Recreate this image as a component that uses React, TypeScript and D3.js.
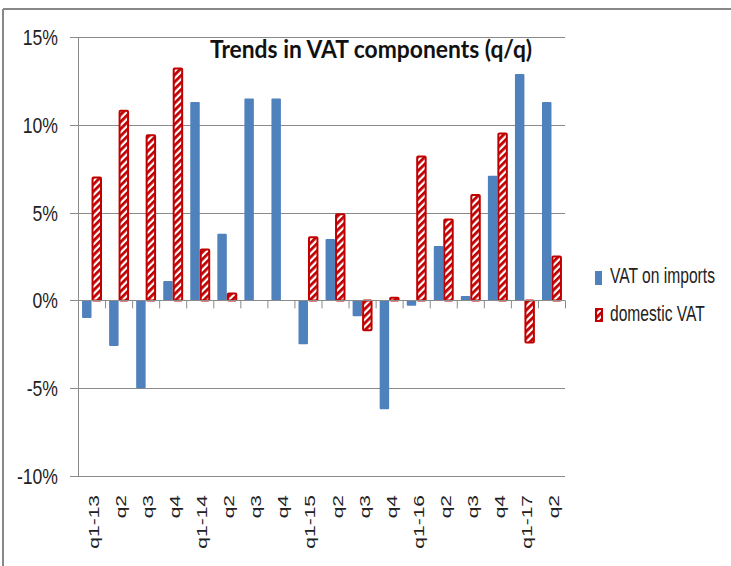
import React from 'react';
import * as d3 from 'd3';

const categories = ['q1-13', 'q2', 'q3', 'q4', 'q1-14', 'q2', 'q3', 'q4', 'q1-15', 'q2', 'q3', 'q4', 'q1-16', 'q2', 'q3', 'q4', 'q1-17', 'q2'];
const vatImports = [-1.0, -2.6, -5.0, 1.1, 11.3, 3.8, 11.5, 11.5, -2.5, 3.5, -0.9, -6.2, -0.3, 3.1, 0.25, 7.1, 12.9, 11.3];
const vatDomestic = [7.0, 10.8, 9.4, 13.2, 2.9, 0.4, 0, 0, 3.6, 4.9, -1.7, 0.15, 8.2, 4.6, 6.0, 9.5, -2.4, 2.5];
const yTicks = [-10, -5, 0, 5, 10, 15];
const seriesNames = ['VAT on imports', 'domestic VAT'];

const BLUE = '#4F81BD';
const RED = '#C00000';
const GRID = '#8a8a8a';

const App = () => {
  const width = 731;
  const height = 566;
  const left = 78, right = 565, top = 37, bottom = 476;

  const x = d3.scaleBand<number>()
    .domain(d3.range(categories.length))
    .range([left, right])
    .paddingInner(0.3)
    .paddingOuter(0.15);
  const sub = d3.scaleBand<number>().domain([0, 1]).range([0, x.bandwidth()]);
  const y = d3.scaleLinear().domain([-10, 15]).range([bottom, top]);
  const step = x.step();

  const bar = (v: number) => ({ y: y(Math.max(0, v)), h: Math.abs(y(v) - y(0)) });

  return (
    <svg width={width} height={height} style={{ position: 'absolute', left: 0, top: 0, background: '#fff' }}>
      <defs>
        <pattern id="hatch" patternUnits="userSpaceOnUse" width={5} height={5} patternTransform="rotate(45)">
          <rect width={5} height={5} fill="#fff" />
          <rect width={2.8} height={5} fill={RED} />
        </pattern>
      </defs>

      {/* frame */}
      <line x1={3} x2={width} y1={9} y2={9} stroke="#888" strokeWidth={2} />
      <line x1={3} x2={3} y1={9} y2={height} stroke="#888" strokeWidth={2} />

      {/* gridlines + y ticks */}
      {yTicks.map(t => (
        <g key={t}>
          <line x1={left - 8} x2={t === 0 ? left : right} y1={Math.round(y(t)) + 0.5} y2={Math.round(y(t)) + 0.5} stroke={GRID} />
          <text
            transform={`translate(58,${y(t) + 8}) scale(0.8,1)`}
            textAnchor="end"
            fontFamily="Liberation Sans, Arial, sans-serif"
            fontSize={22}
            fill="#222"
          >{`${t}%`}</text>
        </g>
      ))}
      <line x1={left + 0.5} x2={left + 0.5} y1={top} y2={bottom} stroke={GRID} />

      {/* bars */}
      {categories.map((c, i) => {
        const b1 = bar(vatImports[i]);
        const b2 = bar(vatDomestic[i]);
        const x0 = x(i)!;
        return (
          <g key={i}>
            {b1.h > 0 && (
              <rect x={x0 + sub(0)!} y={b1.y} width={sub.bandwidth()} height={b1.h} fill={BLUE} rx={1} />
            )}
            {b2.h > 0 && (
              <rect x={x0 + sub(1)! + 1} y={b2.y} width={sub.bandwidth() - 1} height={b2.h}
                fill="url(#hatch)" stroke={RED} strokeWidth={2} rx={1} />
            )}
          </g>
        );
      })}

      {/* zero axis with category ticks */}
      <line x1={left} x2={right} y1={Math.round(y(0)) + 0.5} y2={Math.round(y(0)) + 0.5} stroke={GRID} />
      {d3.range(1, categories.length + 1).map(i => (
        <line key={i} x1={left + i * step + 0.5} x2={left + i * step + 0.5} y1={y(0)} y2={y(0) + 8} stroke={GRID} />
      ))}

      {/* x labels */}
      {categories.map((c, i) => (
        <text
          key={i}
          transform={`translate(${x(i)! + x.bandwidth() / 2 + 7.5},495) rotate(-90) scale(1,0.7)`}
          textAnchor="end"
          fontFamily="Liberation Sans, Arial, sans-serif"
          fontSize={21}
          fill="#222"
        >{c}</text>
      ))}

      {/* title */}
      <text x={210} y={58} fontFamily="Lato, Open Sans, sans-serif" fontWeight="bold" fontSize={25}
        textLength={322} lengthAdjust="spacingAndGlyphs" fill="#111">Trends in VAT components (q/q)</text>

      {/* legend */}
      <rect x={595} y={271} width={7} height={14} fill={BLUE} />
      <text transform="translate(610,283) scale(0.71,1)" fontFamily="Liberation Sans, Arial, sans-serif" fontSize={22} fill="#222">{seriesNames[0]}</text>
      <rect x={596} y={309} width={6} height={12} fill="url(#hatch)" stroke={RED} strokeWidth={2} />
      <text transform="translate(610,321) scale(0.71,1)" fontFamily="Liberation Sans, Arial, sans-serif" fontSize={22} fill="#222">{seriesNames[1]}</text>
    </svg>
  );
};

export default App;
